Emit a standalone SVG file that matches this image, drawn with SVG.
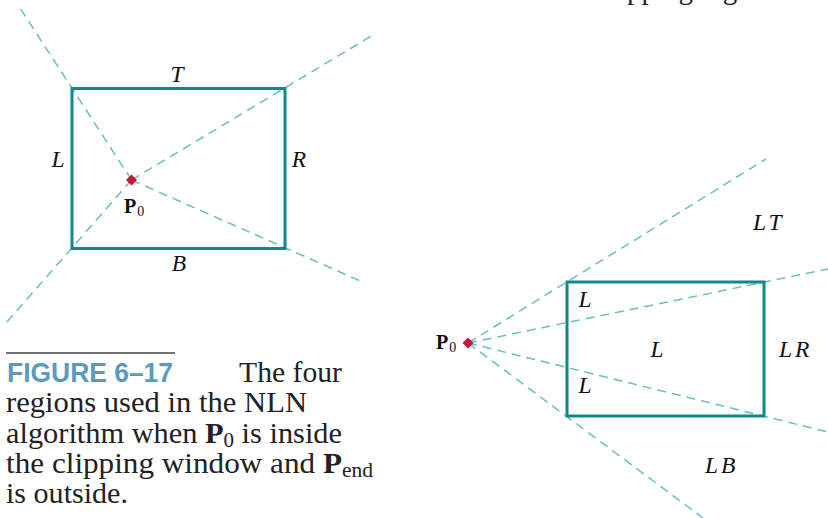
<svg xmlns="http://www.w3.org/2000/svg" width="828" height="518" viewBox="0 0 828 518">
<defs>
<style>
.win{fill:none;stroke:#0e8a8a;stroke-width:3}
.ray{fill:none;stroke:#6cbfb6;stroke-width:1.5;stroke-dasharray:9 6}
.pt{fill:#c8143c}
.lab{font-family:"Liberation Serif",serif;font-style:italic;font-size:23.5px;fill:#111}
.pair{letter-spacing:3px}
.p0{font-family:"Liberation Serif",serif;font-weight:bold;font-size:20px;fill:#111}
.sub{font-family:"Liberation Serif",serif;font-weight:normal;font-size:14px;fill:#111}
.cap{font-family:"Liberation Serif",serif;font-size:29px;fill:#222}
.capb{font-weight:bold}
.fig{font-family:"Liberation Sans",sans-serif;font-weight:bold;font-size:27px;fill:#5a9ac0}
</style>
</defs>
<text class="cap" x="598" y="-1" font-size="30">clipping regions</text>

<g id="connectors">
<line class="ray" x1="131.5" y1="180" x2="20" y2="8"/>
<line class="ray" x1="131.5" y1="180" x2="373" y2="35"/>
<line class="ray" x1="131.5" y1="180" x2="365" y2="283"/>
<line class="ray" x1="131.5" y1="180" x2="6" y2="323"/>
<line class="ray" x1="468" y1="343" x2="766" y2="159"/>
<line class="ray" x1="468" y1="343" x2="828" y2="269"/>
<line class="ray" x1="468" y1="343" x2="828" y2="432"/>
<line class="ray" x1="468" y1="343" x2="703" y2="518"/>
</g>

<g id="window-left">
<rect class="win" x="72" y="88.5" width="213" height="160"/>
<text class="lab" x="177" y="82" text-anchor="middle">T</text>
<text class="lab" x="58" y="167" text-anchor="middle">L</text>
<text class="lab" x="299" y="167" text-anchor="middle">R</text>
<text class="lab" x="179" y="271" text-anchor="middle">B</text>
</g>
<g id="p0-left">
<polygon class="pt" points="131.5,174.5 137,180 131.5,185.5 126,180"/>
<text class="p0" x="124" y="213">P<tspan class="sub" dx="1" dy="3">0</tspan></text>
</g>

<g id="window-right">
<rect class="win" x="567" y="282" width="197" height="134"/>
<text class="lab pair" x="753" y="230">LT</text>
<text class="lab" x="585" y="307" text-anchor="middle">L</text>
<text class="lab" x="657" y="357" text-anchor="middle">L</text>
<text class="lab pair" x="779" y="357">LR</text>
<text class="lab" x="585" y="393" text-anchor="middle">L</text>
<text class="lab pair" x="705" y="473">LB</text>
</g>
<g id="p0-right">
<polygon class="pt" points="468,337.5 473.5,343 468,348.5 462.5,343"/>
<text class="p0" x="436" y="349">P<tspan class="sub" dx="1" dy="3">0</tspan></text>
</g>

<g id="caption">
<line x1="6" y1="353" x2="175" y2="353" stroke="#444" stroke-width="1.5"/>
<text class="fig" x="7" y="382" textLength="166" lengthAdjust="spacingAndGlyphs">FIGURE 6–17</text>
<text class="cap" x="239" y="382" textLength="103" lengthAdjust="spacingAndGlyphs">The four</text>
<text class="cap" x="6" y="412" textLength="301" lengthAdjust="spacingAndGlyphs">regions used in the NLN</text>
<text class="cap" x="6" y="443" textLength="336" lengthAdjust="spacingAndGlyphs">algorithm when <tspan class="capb">P</tspan><tspan font-size="20" dy="4">0</tspan><tspan dy="-4"> is inside</tspan></text>
<text class="cap" x="6" y="473" textLength="367" lengthAdjust="spacingAndGlyphs">the clipping window and <tspan class="capb">P</tspan><tspan font-size="20" dy="4">end</tspan></text>
<text class="cap" x="6" y="503" textLength="122" lengthAdjust="spacingAndGlyphs">is outside.</text>
</g>
</svg>
